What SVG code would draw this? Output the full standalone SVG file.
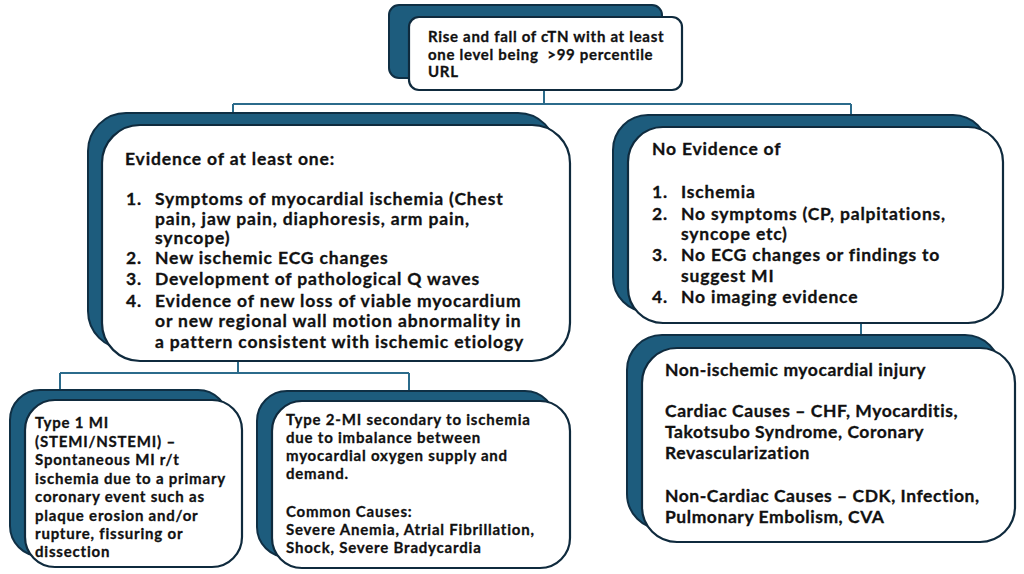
<svg xmlns="http://www.w3.org/2000/svg" width="1024" height="574" viewBox="0 0 1024 574">
<style>
.bk{fill:#1d5c7d;stroke:#0f2f44;stroke-width:2}
.fr{fill:#ffffff;stroke:#0f2a3d;stroke-width:2.2}
.cn{fill:none;stroke:#2b6b8b;stroke-width:2}
text{font-family:Lato,"Open Sans","Liberation Sans",sans-serif;font-weight:700;fill:#111111;stroke:#111111;stroke-width:0.3}
.t14{font-size:15px;letter-spacing:0.7px}
.t15{font-size:15px;letter-spacing:0.8px}
.t17{font-size:17.5px;letter-spacing:0.85px}
.t17r{font-size:17.5px;letter-spacing:0.8px}
.t17b{font-size:17.5px;letter-spacing:0.55px}
</style>
<rect width="1024" height="574" fill="#ffffff"/>
<g id="connectors">
<path class="cn" d="M544 90 V104 M233 104 H851 M233 104 V113 M851 104 V115"/>
<path class="cn" d="M861 323 V336"/>
<path class="cn" d="M238 361 V373 M60 373 H409 M60 373 V390 M409 373 V392"/>
</g>
<g id="node-top">
<rect class="bk" x="389" y="5" width="273" height="73" rx="10"/>
<rect class="fr" x="409" y="17" width="273" height="73" rx="10"/>
<text class="t14" x="428" y="42">Rise and fall of cTN with at least</text>
<text class="t14" x="428" y="60">one level being &#160;&gt;99 percentile</text>
<text class="t14" x="428" y="77">URL</text>
</g>
<g id="node-evidence">
<rect class="bk" x="88" y="113" width="468" height="236" rx="38"/>
<rect class="fr" x="102" y="125" width="468" height="236" rx="38"/>
<text class="t17" x="125" y="165">Evidence of at least one:</text>
<text class="t17" x="126" y="205">1.</text>
<text class="t17" x="155" y="205">Symptoms of myocardial ischemia (Chest</text>
<text class="t17" x="155" y="225">pain, jaw pain, diaphoresis, arm pain,</text>
<text class="t17" x="155" y="244">syncope)</text>
<text class="t17" x="126" y="264">2.</text>
<text class="t17" x="155" y="264">New ischemic ECG changes</text>
<text class="t17" x="126" y="285">3.</text>
<text class="t17" x="155" y="285">Development of pathological Q waves</text>
<text class="t17" x="126" y="307">4.</text>
<text class="t17" x="155" y="307">Evidence of new loss of viable myocardium</text>
<text class="t17" x="155" y="327">or new regional wall motion abnormality in</text>
<text class="t17" x="155" y="348">a pattern consistent with ischemic etiology</text>
</g>
<g id="node-no-evidence">
<rect class="bk" x="613" y="115" width="375" height="197" rx="35"/>
<rect class="fr" x="628" y="127" width="375" height="196" rx="35"/>
<text class="t17r" x="652" y="155">No Evidence of</text>
<text class="t17r" x="652" y="198">1.</text>
<text class="t17r" x="681" y="198">Ischemia</text>
<text class="t17r" x="652" y="220">2.</text>
<text class="t17r" x="681" y="220">No symptoms (CP, palpitations,</text>
<text class="t17r" x="681" y="240">syncope etc)</text>
<text class="t17r" x="652" y="261">3.</text>
<text class="t17r" x="681" y="261">No ECG changes or findings to</text>
<text class="t17r" x="681" y="282">suggest MI</text>
<text class="t17r" x="652" y="303">4.</text>
<text class="t17r" x="681" y="303">No imaging evidence</text>
</g>
<g id="node-type1">
<rect class="bk" x="10" y="390" width="218" height="166" rx="30"/>
<rect class="fr" x="25" y="400" width="217" height="167" rx="30"/>
<text class="t15" x="35" y="428">Type 1 MI</text>
<text class="t15" x="35" y="447">(STEMI/NSTEMI) –</text>
<text class="t15" x="35" y="465">Spontaneous MI r/t</text>
<text class="t15" x="35" y="484">ischemia due to a primary</text>
<text class="t15" x="35" y="502">coronary event such as</text>
<text class="t15" x="35" y="521">plaque erosion and/or</text>
<text class="t15" x="35" y="539">rupture, fissuring or</text>
<text class="t15" x="35" y="557">dissection</text>
</g>
<g id="node-type2">
<rect class="bk" x="257" y="391" width="298" height="166" rx="30"/>
<rect class="fr" x="272" y="401" width="298" height="167" rx="30"/>
<text class="t15" x="286" y="425">Type 2-MI secondary to ischemia</text>
<text class="t15" x="286" y="443">due to imbalance between</text>
<text class="t15" x="286" y="461">myocardial oxygen supply and</text>
<text class="t15" x="286" y="479">demand.</text>
<text class="t15" x="286" y="517">Common Causes:</text>
<text class="t15" x="286" y="535">Severe Anemia, Atrial Fibrillation,</text>
<text class="t15" x="286" y="553">Shock, Severe Bradycardia</text>
</g>
<g id="node-nonischemic">
<rect class="bk" x="627" y="335" width="373" height="194" rx="35"/>
<rect class="fr" x="642" y="348" width="373" height="194" rx="35"/>
<text class="t17b" x="665" y="376">Non-ischemic myocardial injury</text>
<text class="t17b" x="665" y="417">Cardiac Causes – CHF, Myocarditis,</text>
<text class="t17b" x="665" y="438">Takotsubo Syndrome, Coronary</text>
<text class="t17b" x="665" y="459">Revascularization</text>
<text class="t17b" x="665" y="502">Non-Cardiac Causes – CDK, Infection,</text>
<text class="t17b" x="665" y="523">Pulmonary Embolism, CVA</text>
</g>
</svg>
